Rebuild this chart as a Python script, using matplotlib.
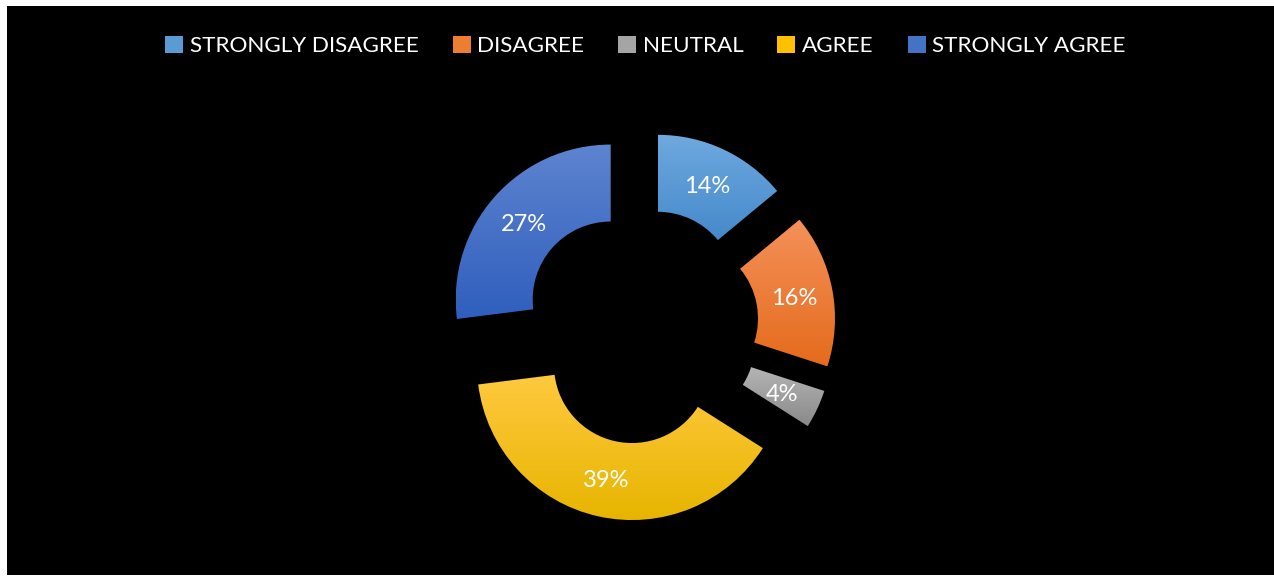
import matplotlib.pyplot as plt
import numpy as np
from matplotlib.colors import LinearSegmentedColormap
from matplotlib.patches import Patch

# survey responses
labels = ['STRONGLY DISAGREE', 'DISAGREE', 'NEUTRAL', 'AGREE', 'STRONGLY AGREE']
shares = [14, 16, 4, 39, 27]
# top / bottom colours of each ring segment
top_colors = ['#6FA9DF', '#F4915A', '#B4B4B4', '#FFC93F', '#5D84CF']
bottom_colors = ['#4589CB', '#E56B1C', '#8A8A8A', '#E7B500', '#2F5EBD']
legend_colors = ['#5B9BD5', '#ED7D31', '#A5A5A5', '#FFC000', '#4472C4']

plt.rcParams['font.family'] = ['Lato', 'DejaVu Sans']

W, H = 1274, 577
fig = plt.figure(figsize=(W / 100, H / 100), dpi=100, facecolor='white')
ax = fig.add_axes([7 / W, 2 / H, 1 - 7 / W, 1 - 8 / H])
ax.set_facecolor('black')

radius = 155
hole = 78
cx, cy = 640.7 - 7, H - 326 - 2
wedges, texts, autotexts = ax.pie(
    shares, radius=radius, center=(cx, cy), startangle=90, counterclock=False,
    explode=[40] * len(shares), autopct='%1.0f%%', pctdistance=0.75,
    wedgeprops=dict(width=radius - hole, linewidth=0),
    textprops=dict(color='white', fontsize=17, va='center'), frame=True)

# vertical gradient inside each segment
for w, c1, c2 in zip(wedges, top_colors, bottom_colors):
    ext = w.get_path().get_extents()
    cmap = LinearSegmentedColormap.from_list('g', [c2, c1])
    grad = np.linspace(0, 1, 256).reshape(-1, 1)
    im = ax.imshow(grad, cmap=cmap, origin='lower', aspect='auto',
                   extent=[ext.x0, ext.x1, ext.y0, ext.y1], zorder=1)
    im.set_clip_path(w)
    w.set_alpha(0)
for t in autotexts:
    t.set_zorder(3)
    t.set_va('center_baseline')

ax.set_xlim(0, W - 7)
ax.set_ylim(0, H - 8)
ax.set_aspect('auto')
ax.set_xticks([])
ax.set_yticks([])
for s in ax.spines.values():
    s.set_visible(False)

handles = [Patch(facecolor=c, edgecolor='none') for c in legend_colors]
ax.legend(handles, labels, ncol=5, loc='center',
          bbox_to_anchor=(0.5 + 5 / (W - 7), 1 - 40 / (H - 8)),
          frameon=False, fontsize=16.2, labelcolor='white', handlelength=0.8,
          handleheight=0.8, handletextpad=0.3, columnspacing=1.5)

fig.savefig('out.png', dpi=100, facecolor='white')
